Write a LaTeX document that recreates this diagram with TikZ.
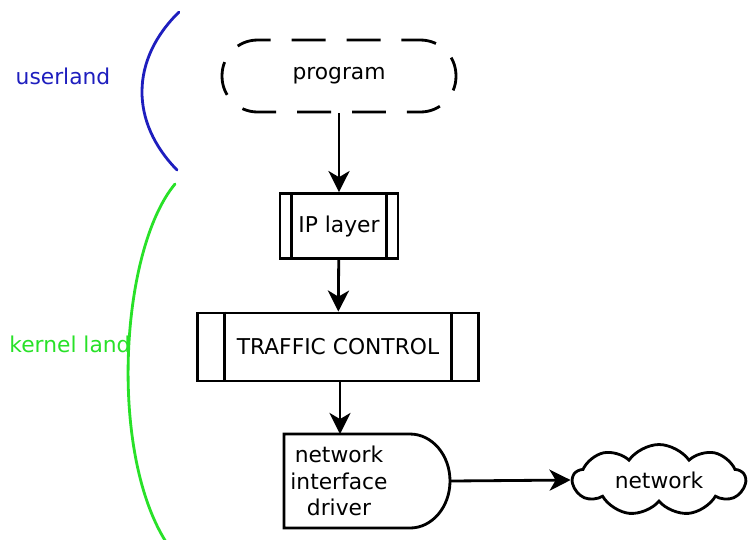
\documentclass[tikz,border=0pt]{standalone}
\usepackage{fontspec}
\setmainfont{DejaVu Sans}
\usetikzlibrary{arrows.meta,shapes.symbols}
\definecolor{userblue}{RGB}{30,30,190}
\definecolor{kernelgreen}{RGB}{40,225,40}
\tikzset{
  box/.style={draw, line width=1.6pt, fill=white},
  flow/.style={line width=1.6pt, -{Stealth[length=12pt,width=12pt,inset=3.5pt]}},
  txt/.style={font=\fontsize{12.4}{15}\selectfont, inner sep=0pt},
  land/.style={line width=1.6pt, line cap=round}
}
\begin{document}
\begin{tikzpicture}[x=0.02cm, y=-0.02cm]
				\useasboundingbox (0,0) rectangle (749,539);
				\node[box, txt, dash pattern=on 0.68cm off 0.42cm, dash phase=0.3cm, rounded corners=0.71cm, minimum width=4.68cm, minimum height=1.44cm] (program) at (339,76) {program};
				\node[box, txt, minimum width=2.36cm, minimum height=1.3cm] (ip) at (339,226) {IP layer};
				\node[box, txt, minimum width=5.62cm, minimum height=1.36cm] (tc) at (338,347) {TRAFFIC CONTROL};
				\foreach \n/\d in {ip/0.26cm, tc/0.57cm} {
					\draw[line width=1.6pt] ([xshift=\d]\n.north west) -- ([xshift=\d]\n.south west);
					\draw[line width=1.6pt] ([xshift=-\d]\n.north east) -- ([xshift=-\d]\n.south east);
				}
				\draw[box] (284,434) -- (410,434) arc[start angle=-90, end angle=90, x radius=40, y radius=47] -- (284,528) -- cycle;
				\node[txt, align=center] (driver) at (339,481) {network\\interface\\driver};
				\coordinate (drvin) at (340,434);
				\coordinate (drvout) at (450,481);
				\node[box, txt, cloud, cloud puffs=9, cloud puff arc=110, aspect=2.5, minimum width=3.45cm, minimum height=1.42cm] (net) at (659,480) {network};
				\draw[flow] (program.south -| ip.north) -- (ip);
				\draw[flow] (ip) -- (tc);
				\draw[flow] (tc.south -| drvin) -- (drvin);
				\draw[flow] (drvout) -- (net.west);
				\coordinate (ua) at (179,12);
				\coordinate (ub) at (177,170);
				\draw[land, userblue] (ua) .. controls (130,60) and (130,122) .. (ub);
				\node[txt, text=userblue] (userland) at (63,76) {userland};
				\coordinate (ka) at (175,184);
				\coordinate (kb) at (168,545);
				\draw[land, kernelgreen] (ka) .. controls (120,250) and (108,455) .. (kb);
				\node[txt, text=kernelgreen] (kernel) at (70,344) {kernel land};
			\end{tikzpicture}
\end{document}
